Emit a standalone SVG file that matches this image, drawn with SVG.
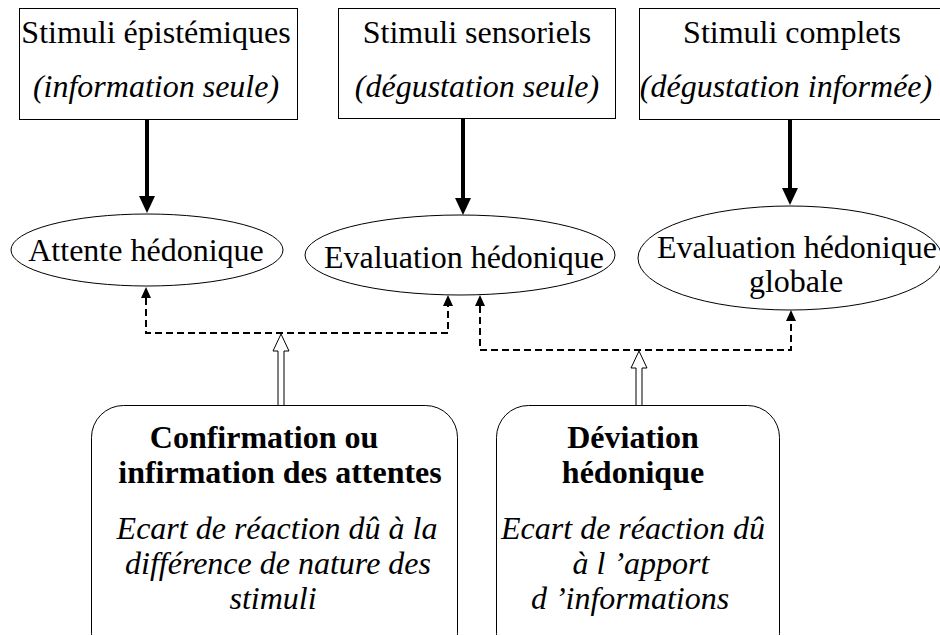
<svg xmlns="http://www.w3.org/2000/svg" width="940" height="635" viewBox="0 0 940 635">
<style>
text{font-family:"Liberation Serif","Times New Roman",serif;font-size:32px;fill:#000;text-anchor:middle}
.i{font-style:italic}
.b{font-weight:bold}
.box{fill:#fff;stroke:#000;stroke-width:1}
.thick{stroke:#000;stroke-width:4;fill:none}
.dash{stroke:#000;stroke-width:2;fill:none;stroke-dasharray:7,4}
.hollow{fill:#fff;stroke:#000;stroke-width:1}
</style>
<rect width="940" height="635" fill="#fff"/>
<g id="connectors">
<line class="thick" x1="147" y1="119" x2="147" y2="197"/>
<path d="M139,196 L155,196 L147,213 Z"/>
<line class="thick" x1="463" y1="118" x2="463" y2="199"/>
<path d="M455,198 L471,198 L463,215 Z"/>
<line class="thick" x1="790" y1="120" x2="790" y2="189"/>
<path d="M782,188 L798,188 L790,205 Z"/>
<path class="dash" d="M146,298 V333 H448 V306"/>
<path d="M141,298 L151,298 L146,287 Z"/>
<path d="M443,306 L453,306 L448,295 Z"/>
<path class="dash" d="M480,306 V350 H791 V321"/>
<path d="M475,306 L485,306 L480,295 Z"/>
<path d="M786,321 L796,321 L791,310 Z"/>
<path class="hollow" d="M281,334 L273,351 L278,351 L278,406 L284,406 L284,351 L289,351 Z"/>
<path class="hollow" d="M639,351 L631,368 L636,368 L636,406 L642,406 L642,368 L647,368 Z"/>
</g>
<g id="n1">
<rect class="box" x="19.5" y="8.5" width="278" height="111"/>
<text x="156" y="43">Stimuli épistémiques</text>
<text class="i" x="156" y="97">(information seule)</text>
</g>
<g id="n2">
<rect class="box" x="338.5" y="8.5" width="277" height="110"/>
<text x="477" y="43">Stimuli sensoriels</text>
<text class="i" x="477" y="97">(dégustation seule)</text>
</g>
<g id="n3">
<rect class="box" x="639.5" y="8.5" width="310" height="111"/>
<text x="792" y="43">Stimuli complets</text>
<text class="i" x="786" y="97">(dégustation informée)</text>
</g>
<g id="n4">
<ellipse class="box" cx="147" cy="250" rx="136" ry="36"/>
<text x="146" y="261">Attente hédonique</text>
</g>
<g id="n5">
<ellipse class="box" cx="460" cy="255" rx="155" ry="40"/>
<text x="464" y="268">Evaluation hédonique</text>
</g>
<g id="n6">
<ellipse class="box" cx="790" cy="258" rx="152" ry="52"/>
<text x="797" y="258">Evaluation hédonique</text>
<text x="796" y="292">globale</text>
</g>
<g id="n7">
<rect class="box" x="91.5" y="405.5" width="366" height="260" rx="32"/>
<text class="b" x="264" y="448">Confirmation ou</text>
<text class="b" x="280" y="483">infirmation des attentes</text>
<text class="i" x="277" y="539">Ecart de réaction dû à la</text>
<text class="i" x="278" y="574">différence de nature des</text>
<text class="i" x="273" y="609">stimuli</text>
</g>
<g id="n8">
<rect class="box" x="496.5" y="405.5" width="283" height="260" rx="32"/>
<text class="b" x="633" y="448">Déviation</text>
<text class="b" x="633" y="483">hédonique</text>
<text class="i" x="633" y="539">Ecart de réaction dû</text>
<text class="i" x="641" y="574">à l ’apport</text>
<text class="i" x="630" y="609">d ’informations</text>
</g>
</svg>
